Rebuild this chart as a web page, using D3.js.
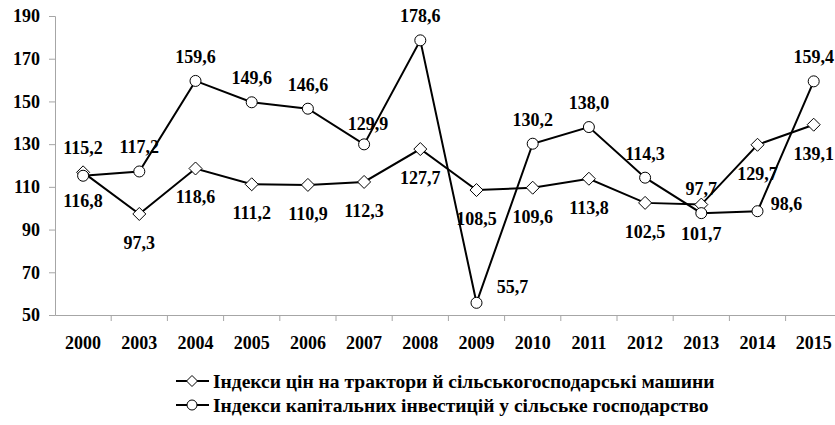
<!DOCTYPE html>
<html>
<head>
<meta charset="utf-8">
<script src="https://cdn.jsdelivr.net/npm/d3@7/dist/d3.min.js"></script>
<style>
  html, body { margin: 0; padding: 0; background: #fff; }
  svg { display: block; }
</style>
</head>
<body>
<svg id="chart" width="835" height="425"></svg>
<script>
// ---- data ----
const years = ["2000", "2003", "2004", "2005", "2006", "2007", "2008", "2009", "2010", "2011", "2012", "2013", "2014", "2015"];
const priceIndex = [116.8, 97.3, 118.6, 111.2, 110.9, 112.3, 127.7, 108.5, 109.6, 113.8, 102.5, 101.7, 129.7, 139.1];
const investIndex = [115.2, 117.2, 159.6, 149.6, 146.6, 129.9, 178.6, 55.7, 130.2, 138.0, 114.3, 97.7, 98.6, 159.4];
const yTicks = [50, 70, 90, 110, 130, 150, 170, 190];
const seriesNames = [
  "Індекси цін на трактори й сільськогосподарські машини",
  "Індекси капітальних інвестицій у сільське господарство"
];

// ---- layout ----
const FONT = "'Liberation Serif', 'Times New Roman', Times, serif";
const svg = d3.select("#chart");
const fmt = v => d3.format(".1f")(v).replace(".", ",");

const x = d3.scaleBand().domain(years).range([55, 55 + 14 * 56.2]).padding(0);
const y = d3.scaleLinear().domain([50, 190]).range([315, 16]);
const cx = d => x(d) + x.bandwidth() / 2;

const axisColor = "#a6a6a6";

// Y axis
const yAxis = svg.append("g").attr("transform", "translate(55,0)")
  .call(d3.axisLeft(y).tickValues(yTicks).tickSize(6).tickPadding(9).tickFormat(d3.format("d")));
yAxis.attr("font-family", null).attr("font-size", null);
yAxis.select(".domain").attr("stroke", axisColor).attr("stroke-width", 1);
yAxis.selectAll(".tick line").attr("stroke", axisColor);
yAxis.selectAll(".tick text").style("font-size", "18px");

// X axis (labels at centers, tick marks at category boundaries)
const xAxis = svg.append("g").attr("transform", "translate(0,315)")
  .call(d3.axisBottom(x).tickSize(0).tickPadding(21));
xAxis.attr("font-family", null).attr("font-size", null);
xAxis.select(".domain").attr("stroke", axisColor).attr("stroke-width", 1);
xAxis.selectAll(".tick text").style("font-size", "18px");
svg.append("g").selectAll("line").data(years.slice(1).concat(["end"]))
  .join("line")
  .attr("x1", (d, i) => i < years.length - 1 ? x(d) : x(years[years.length - 1]) + x.bandwidth())
  .attr("x2", (d, i) => i < years.length - 1 ? x(d) : x(years[years.length - 1]) + x.bandwidth())
  .attr("y1", 315).attr("y2", 321)
  .attr("stroke", axisColor);

// lines
const line = d3.line().x((d, i) => cx(years[i])).y(d => y(d));
svg.append("path").datum(priceIndex).attr("d", line)
  .attr("fill", "none").attr("stroke", "#000").attr("stroke-width", 2);
svg.append("path").datum(investIndex).attr("d", line)
  .attr("fill", "none").attr("stroke", "#000").attr("stroke-width", 2);

// markers
const diamond = s => `M0,${-s}L${s},0L0,${s}L${-s},0Z`;
svg.append("g").selectAll("path").data(priceIndex).join("path")
  .attr("d", diamond(6.5))
  .attr("transform", (d, i) => `translate(${cx(years[i])},${y(d)})`)
  .attr("fill", "#fff").attr("stroke", "#000").attr("stroke-width", 1);
svg.append("g").selectAll("circle").data(investIndex).join("circle")
  .attr("cx", (d, i) => cx(years[i])).attr("cy", d => y(d)).attr("r", 5.5)
  .attr("fill", "#fff").attr("stroke", "#000").attr("stroke-width", 1);

// data labels: price labels below, investment labels above (with a few manual nudges)
const priceOffset = () => [0, 29];
const investOffsets = { 0: [0, -28], 5: [4, -20], 7: [36, -16], 12: [29, -7] };
const investOffset = i => investOffsets[i] || [0, -24];

svg.append("g").selectAll("text").data(priceIndex).join("text")
  .attr("x", (d, i) => cx(years[i]) + priceOffset(i)[0])
  .attr("y", (d, i) => y(d) + priceOffset(i)[1])
  .attr("text-anchor", "middle").attr("dominant-baseline", "central")
  .style("font-size", "18px")
  .text(d => fmt(d));
svg.append("g").selectAll("text").data(investIndex).join("text")
  .attr("x", (d, i) => cx(years[i]) + investOffset(i)[0])
  .attr("y", (d, i) => y(d) + investOffset(i)[1])
  .attr("text-anchor", "middle").attr("dominant-baseline", "central")
  .style("font-size", "18px")
  .text(d => fmt(d));

// legend
const legend = svg.append("g");
const legendRows = [381, 405];
seriesNames.forEach((name, i) => {
  const ly = legendRows[i];
  legend.append("line").attr("x1", 176).attr("x2", 209).attr("y1", ly).attr("y2", ly)
    .attr("stroke", "#000").attr("stroke-width", 2);
  if (i === 0) {
    legend.append("path").attr("d", diamond(5.5)).attr("transform", `translate(192,${ly})`)
      .attr("fill", "#fff").attr("stroke", "#000");
  } else {
    legend.append("circle").attr("cx", 192).attr("cy", ly).attr("r", 5)
      .attr("fill", "#fff").attr("stroke", "#000");
  }
  legend.append("text").attr("x", 213).attr("y", ly).attr("dominant-baseline", "central")
    .style("font-size", "19.5px").text(name);
});

// common text style
svg.selectAll("text")
  .style("font-family", FONT)
  .style("font-weight", "bold")
  .attr("fill", "#000");
</script>
</body>
</html>
